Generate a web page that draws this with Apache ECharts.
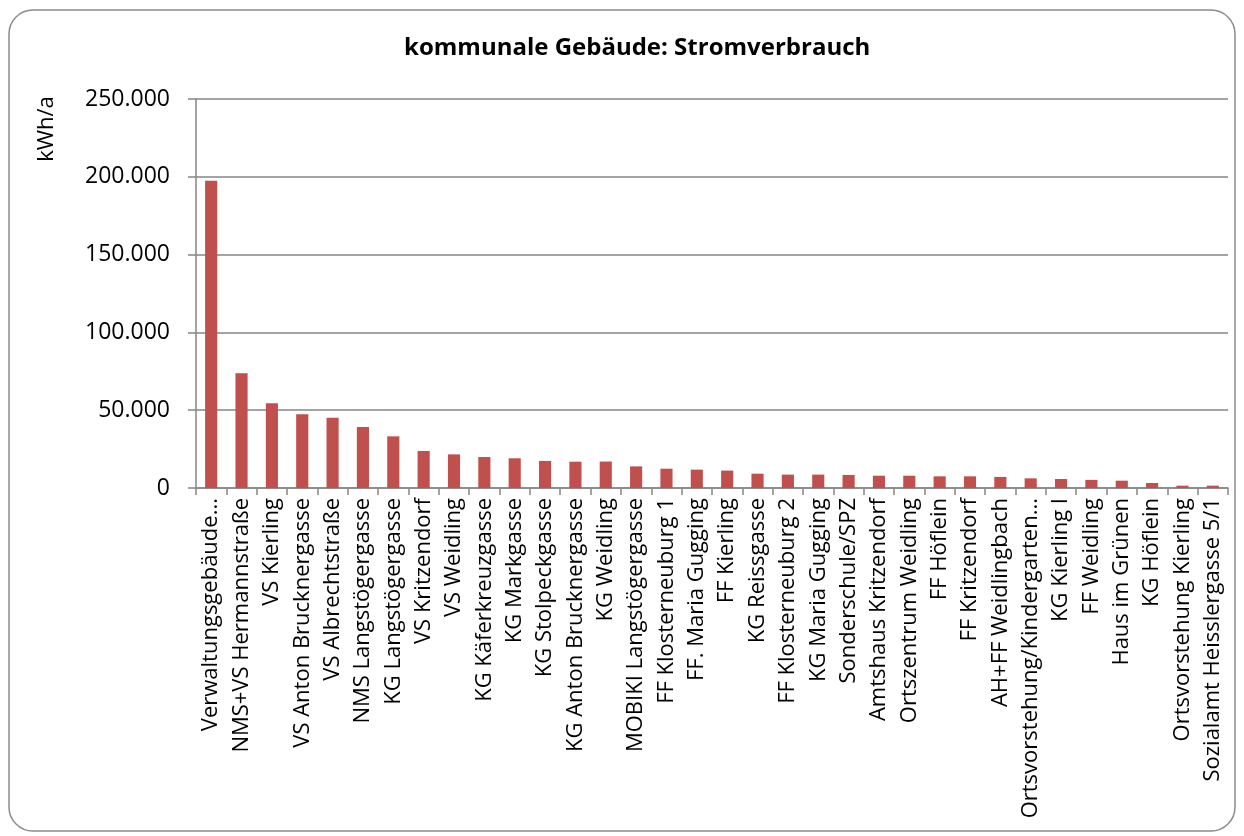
<!DOCTYPE html>
<html>
<head>
<meta charset="utf-8">
<script src="https://cdn.jsdelivr.net/npm/echarts@6/dist/echarts.min.js"></script>
<style>
html, body { margin: 0; padding: 0; background: #fff; }
#main { width: 1244px; height: 836px; }
</style>
</head>
<body>
<div id="main"></div>
<script>
// Gebäude (Kategorien)
const gebaeude = [
  'Verwaltungsgebäude...', 'NMS+VS Hermannstraße', 'VS Kierling', 'VS Anton Brucknergasse',
  'VS Albrechtstraße', 'NMS Langstögergasse', 'KG Langstögergasse', 'VS Kritzendorf',
  'VS Weidling', 'KG Käferkreuzgasse', 'KG Markgasse', 'KG Stolpeckgasse',
  'KG Anton Brucknergasse', 'KG Weidling', 'MOBIKI Langstögergasse', 'FF Klosterneuburg 1',
  'FF. Maria Gugging', 'FF Kierling', 'KG Reissgasse', 'FF Klosterneuburg 2',
  'KG Maria Gugging', 'Sonderschule/SPZ', 'Amtshaus Kritzendorf', 'Ortszentrum Weidling',
  'FF Höflein', 'FF Kritzendorf', 'AH+FF Weidlingbach', 'Ortsvorstehung/Kindergarten...',
  'KG Kierling I', 'FF Weidling', 'Haus im Grünen', 'KG Höflein',
  'Ortsvorstehung Kierling', 'Sozialamt Heisslergasse 5/1'
];
// Stromverbrauch kWh/a
const stromverbrauch = [
  197500, 73700, 54400, 47400, 45200, 39200, 33200, 23800,
  21600, 19900, 19100, 17400, 16900, 17000, 13900, 12400,
  11800, 11200, 9200, 8600, 8600, 8400, 7900, 7900,
  7500, 7500, 7100, 6200, 5800, 5200, 4700, 3200,
  1500, 1500
];
const yTicks = { min: 0, max: 250000, interval: 50000 };

const font = '"Open Sans", sans-serif';
const chart = echarts.init(document.getElementById('main'));
chart.setOption({
  animation: false,
  textStyle: { fontFamily: font },
  title: {
    text: 'kommunale Gebäude: Stromverbrauch',
    left: 399,
    top: 31,
    textStyle: { fontSize: 24, fontWeight: 'bold', color: '#000', fontFamily: font }
  },
  graphic: [
    {
      type: 'rect',
      shape: { x: 9, y: 10, width: 1226, height: 821, r: 24 },
      style: { fill: 'none', stroke: '#8c8c8c', lineWidth: 1.5 },
      z: -1
    },
    {
      type: 'text',
      x: 47, y: 129,
      rotation: Math.PI / 2,
      style: {
        text: 'kWh/a', fontSize: 22, fontFamily: font, fill: '#000',
        align: 'center', verticalAlign: 'middle'
      }
    }
  ],
  grid: { left: 196, right: 16, top: 99, bottom: 348 },
  xAxis: {
    type: 'category',
    data: gebaeude,
    axisLine: { lineStyle: { color: '#868686', width: 1.5 } },
    axisTick: { show: true, length: 7, lineStyle: { color: '#868686', width: 1.5 } },
    axisLabel: {
      interval: 0,
      rotate: 90,
      margin: 10,
      fontSize: 22,
      color: '#000',
      fontFamily: font
    }
  },
  yAxis: {
    type: 'value',
    min: yTicks.min,
    max: yTicks.max,
    interval: yTicks.interval,
    axisLine: { show: true, lineStyle: { color: '#868686', width: 1.5 } },
    axisTick: { show: true, length: 8, lineStyle: { color: '#868686', width: 1.5 } },
    splitLine: { lineStyle: { color: '#868686', width: 1.5 } },
    axisLabel: {
      margin: 26,
      fontSize: 23,
      color: '#000',
      fontFamily: font,
      formatter: v => v.toString().replace(/\B(?=(\d{3})+(?!\d))/g, '.')
    }
  },
  series: [
    {
      type: 'bar',
      data: stromverbrauch,
      barWidth: '40%',
      itemStyle: { color: '#C0504D' }
    }
  ]
});
</script>
</body>
</html>
